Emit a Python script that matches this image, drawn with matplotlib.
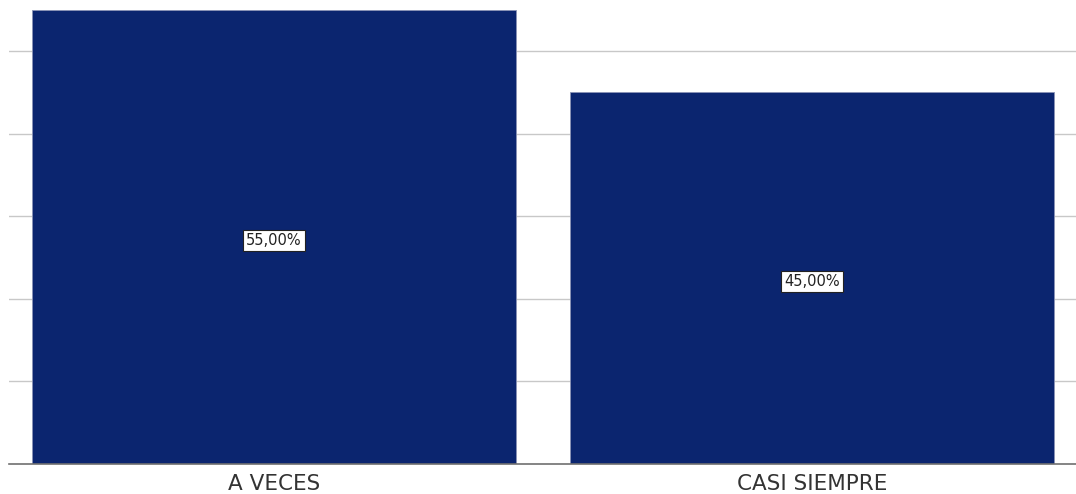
import matplotlib.pyplot as plt

categorias = ['A VECES', 'CASI SIEMPRE']
porcentajes = [55.0, 45.0]
etiquetas = ['55,00%', '45,00%']

plt.rcParams['font.family'] = ['DejaVu Sans']

fig = plt.figure(figsize=(10.76, 4.94), dpi=100)
ax = fig.add_axes([9 / 1076, 30 / 494, 1 - 9 / 1076, 1 - 30 / 494])

x = range(len(categorias))
barras = ax.bar(x, porcentajes, width=0.9, color='#0b256f',
                edgecolor='#8a93b5', linewidth=0.6, zorder=2)

# etiquetas de valor en el centro de cada barra
for b, txt in zip(barras, etiquetas):
    ax.text(b.get_x() + b.get_width() / 2, b.get_height() / 2 - 0.4, txt,
            ha='center', va='center', fontsize=10.5, color='#222222', zorder=3,
            bbox=dict(boxstyle='square,pad=0.2', facecolor='white',
                      edgecolor='#222222', linewidth=0.8))

ax.set_xlim(-0.4926, 1.4907)
ax.set_ylim(0, 56.2)
ax.set_yticks([10, 20, 30, 40, 50])
ax.yaxis.grid(True, color='#c8c8c8', linewidth=1.0, zorder=1)
ax.set_axisbelow(True)
ax.tick_params(axis='y', left=False, labelleft=False)
ax.set_xticks(list(x))
ax.set_xticklabels(categorias, fontsize=15.5, color='#333333')
ax.tick_params(axis='x', length=0, pad=7)

for s in ['top', 'right', 'left']:
    ax.spines[s].set_visible(False)
ax.spines['bottom'].set_color('#707070')
ax.spines['bottom'].set_linewidth(1.2)

fig.savefig('out.png', dpi=100)
